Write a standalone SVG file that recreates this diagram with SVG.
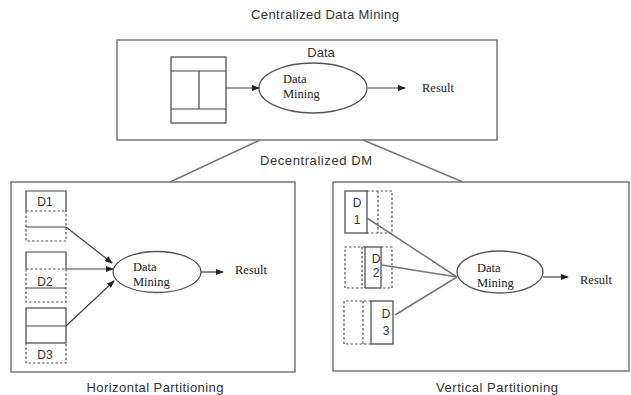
<svg xmlns="http://www.w3.org/2000/svg" width="631" height="395" viewBox="0 0 631 395">
<style>
.box{fill:none;stroke:#777;stroke-width:1.5}
.ln{fill:none;stroke:#444;stroke-width:1.2}
.dsh{fill:none;stroke:#555;stroke-width:1.2;stroke-dasharray:2.5 2}
.lbl{font-family:"Liberation Sans",Arial,sans-serif;font-size:12px;fill:#333}
.ttl{font-family:"Liberation Sans",Arial,sans-serif;font-size:13px;fill:#333}
.ser{font-family:"Liberation Serif","Times New Roman",serif;font-size:12.5px;fill:#222}
.ell{fill:#fff;stroke:#555;stroke-width:1.3}
</style>
<defs>
<marker id="ah" markerWidth="8" markerHeight="6" refX="7" refY="3" orient="auto" markerUnits="userSpaceOnUse">
<path d="M0,0 L8,3 L0,6 Z" fill="#222"/>
</marker>
</defs>
<rect width="631" height="395" fill="#fff"/>
<text class="ttl" x="325" y="19" text-anchor="middle" textLength="148">Centralized Data Mining</text>

<g id="central">
<rect class="box" x="117" y="40" width="380" height="100"/>
<text class="ttl" x="321" y="57" text-anchor="middle">Data</text>
</g>
<g id="table">
<rect class="ln" x="171" y="57" width="55" height="66"/>
<line class="ln" x1="171" y1="71" x2="226" y2="71"/>
<line class="ln" x1="171" y1="109" x2="226" y2="109"/>
<line class="ln" x1="199" y1="71" x2="199" y2="109" stroke-width="0.8"/>
</g>
<g id="dm-central">
<ellipse class="ell" cx="313" cy="88" rx="54" ry="25"/>
<text class="ser" x="283" y="83">Data</text>
<text class="ser" x="283" y="98">Mining</text>
</g>
<g id="result-central"><text class="ser" x="422" y="92">Result</text></g>

<text class="ttl" x="316" y="165" text-anchor="middle" textLength="112">Decentralized DM</text>

<g id="horizontal">
<rect class="box" x="11" y="182" width="284" height="190"/>
<text class="ttl" x="155" y="392" text-anchor="middle" textLength="137">Horizontal Partitioning</text>
</g>
<g id="h-d1">
<path class="ln" d="M26,211 V191 H66 V211"/>
<path class="dsh" d="M26,211 H66 M26,211 V241 H66 V211"/>
<line class="ln" x1="26" y1="227" x2="66" y2="227"/>
<text class="lbl" x="45" y="206" text-anchor="middle">D1</text>
</g>
<g id="h-d2">
<path class="ln" d="M26,269 V252 H66 V269"/>
<path class="dsh" d="M26,269 H66 M26,269 V302 H66 V269"/>
<line class="ln" x1="26" y1="288" x2="66" y2="288"/>
<text class="lbl" x="45" y="286" text-anchor="middle">D2</text>
</g>
<g id="h-d3">
<rect class="ln" x="26" y="308" width="40" height="35"/>
<line class="ln" x1="26" y1="326" x2="66" y2="326"/>
<path class="dsh" d="M26,343 V363 H66 V343"/>
<text class="lbl" x="45" y="359" text-anchor="middle">D3</text>
</g>
<g id="dm-h">
<ellipse class="ell" cx="157" cy="272" rx="44" ry="20.5"/>
<text class="ser" x="133" y="271">Data</text>
<text class="ser" x="133" y="286">Mining</text>
</g>
<g id="result-h"><text class="ser" x="235" y="274">Result</text></g>

<g id="vertical">
<rect class="box" x="333" y="182" width="296" height="189"/>
<text class="ttl" x="497" y="392" text-anchor="middle" textLength="122">Vertical Partitioning</text>
</g>
<g id="v-d1">
<rect class="ln" x="345" y="191" width="22" height="42"/>
<path class="dsh" d="M367,191 H392 V233 H367 M378,191 V233"/>
<text class="lbl" x="357" y="207" text-anchor="middle">D</text>
<text class="lbl" x="357" y="224" text-anchor="middle">1</text>
</g>
<g id="v-d2">
<path class="dsh" d="M365,247 H345 V288 H365 M381,247 H392 V288 H381 M362,247 V288"/>
<rect class="ln" x="365" y="247" width="16" height="41"/>
<text class="lbl" x="376" y="263" text-anchor="middle">D</text>
<text class="lbl" x="376" y="277" text-anchor="middle">2</text>
</g>
<g id="v-d3">
<path class="dsh" d="M371,301 H344 V344 H371 M363,301 V344"/>
<rect class="ln" x="371" y="301" width="22" height="43"/>
<text class="lbl" x="386" y="318" text-anchor="middle">D</text>
<text class="lbl" x="386" y="335" text-anchor="middle">3</text>
</g>
<g id="dm-v">
<ellipse class="ell" cx="500" cy="272" rx="43" ry="21"/>
<text class="ser" x="477" y="272">Data</text>
<text class="ser" x="477" y="287">Mining</text>
</g>
<g id="result-v"><text class="ser" x="580" y="284">Result</text></g>

<g id="connectors">
<line class="ln" x1="226" y1="88" x2="259" y2="88" marker-end="url(#ah)"/>
<line class="ln" x1="368" y1="88" x2="405" y2="88" marker-end="url(#ah)"/>
<line class="box" x1="260" y1="140" x2="170" y2="182"/>
<line class="box" x1="363" y1="140" x2="463" y2="182"/>
<line class="ln" x1="66" y1="227" x2="112" y2="263" marker-end="url(#ah)"/>
<line class="ln" x1="66" y1="269" x2="113" y2="269" marker-end="url(#ah)"/>
<line class="ln" x1="66" y1="326" x2="114" y2="281" marker-end="url(#ah)"/>
<line class="ln" x1="201" y1="272" x2="223" y2="272" marker-end="url(#ah)"/>
<line class="box" x1="367" y1="218" x2="457" y2="277"/>
<line class="box" x1="382" y1="265" x2="457" y2="277"/>
<line class="box" x1="395" y1="315" x2="457" y2="277"/>
<line class="ln" x1="543" y1="277" x2="568" y2="277" marker-end="url(#ah)"/>
</g>
</svg>
